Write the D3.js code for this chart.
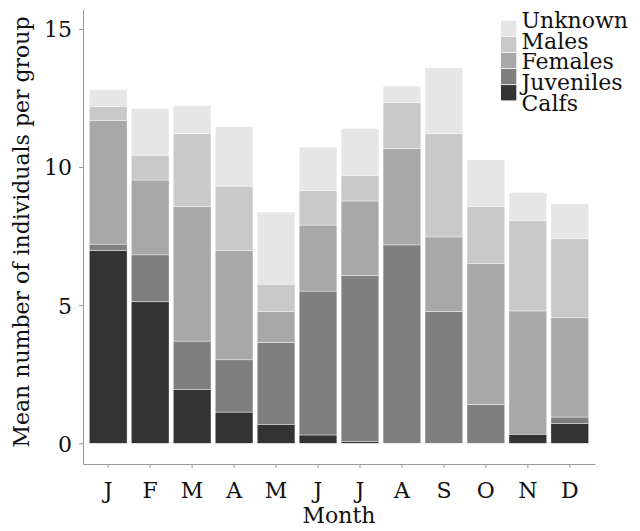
<!DOCTYPE html>
<html>
<head>
<meta charset="utf-8">
<script src="https://cdn.jsdelivr.net/npm/d3@7"></script>
<style>
  html, body { margin: 0; padding: 0; background: #fff; }
  svg { display: block; }
  text { font-family: "DejaVu Serif", serif; fill: #111; }
</style>
</head>
<body>
<svg id="chart" width="640" height="531"></svg>
<script>
// Mean group composition per month
const months = ["J", "F", "M", "A", "M", "J", "J", "A", "S", "O", "N", "D"];
const calfs     = [6.98, 5.12, 1.94, 1.13, 0.67, 0.30, 0.06, 0.00, 0.00, 0.00, 0.33, 0.71];
const juveniles = [0.23, 1.70, 1.76, 1.89, 2.97, 5.21, 6.01, 7.18, 4.77, 1.41, 0.00, 0.24];
const females   = [4.48, 2.71, 4.87, 3.95, 1.14, 2.39, 2.70, 3.49, 2.70, 5.10, 4.46, 3.59];
const males     = [0.51, 0.90, 2.64, 2.34, 0.98, 1.25, 0.93, 1.67, 3.73, 2.06, 3.26, 2.87];
const unknown   = [0.60, 1.69, 1.01, 2.15, 2.61, 1.57, 1.69, 0.59, 2.39, 1.69, 1.02, 1.26];
const seriesNames = ["Calfs", "Juveniles", "Females", "Males", "Unknown"];
const seriesValues = [calfs, juveniles, females, males, unknown];
const yTicks = [0, 5, 10, 15];
const greys = ["#333333", "#7F7F7F", "#A8A8A8", "#C9C9C9", "#E6E6E6"];

const rows = months.map((m, i) => {
  const r = { idx: i, month: m };
  seriesNames.forEach((s, k) => { r[s] = seriesValues[k][i]; });
  return r;
});

const svg = d3.select("#chart");
const plotLeft = 83, plotRight = 595, plotTop = 9, plotBottom = 464;

const x = d3.scaleBand()
  .domain(d3.range(months.length))
  .range([plotLeft, plotRight])
  .paddingInner(0.1)
  .paddingOuter(0.15);

const y = d3.scaleLinear()
  .domain([-0.75, 15.72])
  .range([plotBottom, plotTop]);

const color = d3.scaleOrdinal().domain(seriesNames).range(greys);

const stacked = d3.stack().keys(seriesNames)(rows);

// stacked bars
svg.append("g")
  .selectAll("g")
  .data(stacked)
  .join("g")
  .attr("fill", d => color(d.key))
  .selectAll("rect")
  .data(d => d)
  .join("rect")
  .attr("x", d => x(d.data.idx))
  .attr("width", x.bandwidth())
  .attr("y", d => y(d[1]))
  .attr("height", d => Math.max(0, y(d[0]) - y(d[1])))
  .attr("stroke", "#fff")
  .attr("stroke-width", 0.4);

// axes
const yAxis = svg.append("g")
  .attr("transform", `translate(${plotLeft},0)`)
  .call(d3.axisLeft(y).tickValues(yTicks).tickSize(4).tickPadding(7).tickSizeOuter(0));
const xAxis = svg.append("g")
  .attr("transform", `translate(0,${plotBottom})`)
  .call(d3.axisBottom(x).tickFormat(i => months[i]).tickSize(4).tickPadding(9).tickSizeOuter(0));

[yAxis, xAxis].forEach(g => {
  g.select(".domain").attr("stroke", "#9a9a9a").attr("stroke-width", 1);
  g.selectAll(".tick line").attr("stroke", "#9a9a9a");
  g.selectAll(".tick text")
    .attr("font-family", "DejaVu Serif, serif")
    .attr("font-size", 22)
    .attr("fill", "#111");
});
yAxis.selectAll(".tick text").attr("dy", "0.36em");
xAxis.selectAll(".tick text").attr("dy", "0.95em");

// axis titles
svg.append("text")
  .attr("x", (plotLeft + plotRight) / 2)
  .attr("y", 523)
  .attr("text-anchor", "middle")
  .attr("font-size", 22)
  .text("Month");

svg.append("text")
  .attr("transform", "translate(29,232) rotate(-90)")
  .attr("text-anchor", "middle")
  .attr("font-size", 22)
  .text("Mean number of individuals per group");

// legend (top to bottom: Unknown ... Calfs)
const legendKeys = seriesNames.slice().reverse();
const legend = svg.append("g");
legend.selectAll("rect")
  .data(legendKeys)
  .join("rect")
  .attr("x", 501)
  .attr("y", (d, i) => 20.7 + i * 16.1)
  .attr("width", 15.3)
  .attr("height", 15.3)
  .attr("fill", d => color(d));
legend.selectAll("text")
  .data(legendKeys)
  .join("text")
  .attr("x", 521.5)
  .attr("y", (d, i) => 27.7 + i * 20.8)
  .attr("font-size", 22)
  .text(d => d);
</script>
</body>
</html>
